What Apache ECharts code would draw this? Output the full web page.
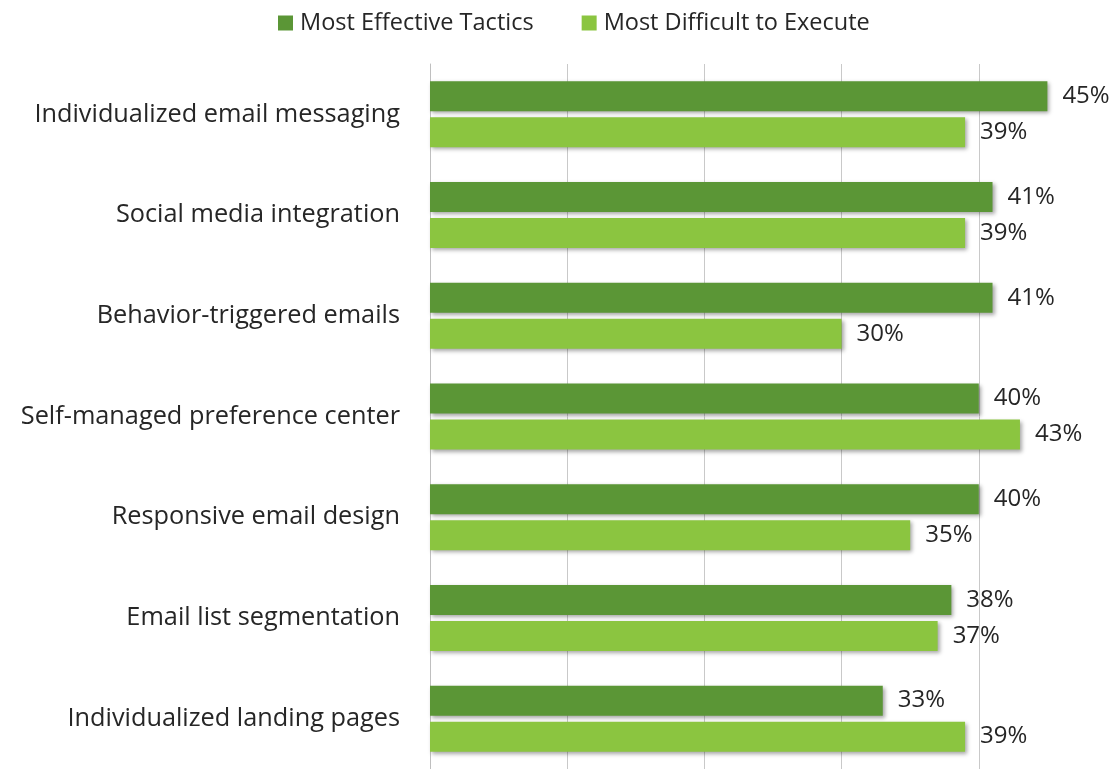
<!DOCTYPE html>
<html>
<head>
<meta charset="utf-8">
<script src="https://cdn.jsdelivr.net/npm/echarts@6/dist/echarts.min.js"></script>
<style>
  html, body { margin: 0; padding: 0; background: #fff; }
  #chart { width: 1116px; height: 769px; }
</style>
</head>
<body>
<div id="chart"></div>
<script>
const categories = [
  'Individualized email messaging',
  'Social media integration',
  'Behavior-triggered emails',
  'Self-managed preference center',
  'Responsive email design',
  'Email list segmentation',
  'Individualized landing pages'
];
const seriesNames = ['Most Effective Tactics', 'Most Difficult to Execute'];
const mostEffective = [45, 41, 41, 40, 40, 38, 33];
const mostDifficult = [39, 39, 30, 43, 35, 37, 39];

const FONT = 'Open Sans';
const TEXT = '#262626';

const barShadow = {
  shadowColor: 'rgba(0,0,0,0.35)',
  shadowBlur: 4,
  shadowOffsetX: 2,
  shadowOffsetY: 2
};

const valueLabel = {
  show: true,
  position: 'right',
  distance: 15,
  formatter: p => p.value + '%',
  fontFamily: FONT,
  fontSize: 24,
  color: TEXT,
  padding: [3, 0, 0, 0]
};

const chart = echarts.init(document.getElementById('chart'));
chart.setOption({
  animation: false,
  legend: {
    top: 6,
    left: 273,
    itemWidth: 15,
    itemHeight: 15,
    itemGap: 48,
    icon: 'rect',
    textStyle: { fontFamily: FONT, fontSize: 23.5, color: TEXT, padding: [0, 0, 0, 2] },
    data: seriesNames
  },
  grid: { left: 430, top: 64, width: 687.5, height: 707 },
  xAxis: {
    type: 'value',
    min: 0,
    max: 50,
    interval: 10,
    axisLabel: { show: false },
    axisLine: { show: false },
    axisTick: { show: false },
    splitLine: { show: true, lineStyle: { color: '#c9c9c9', width: 1 } }
  },
  yAxis: {
    type: 'category',
    inverse: true,
    data: categories,
    axisTick: { show: false },
    axisLine: { show: true, lineStyle: { color: '#bfbfbf', width: 1 } },
    axisLabel: { margin: 30, fontFamily: FONT, fontSize: 25.3, color: TEXT }
  },
  series: [
    {
      name: seriesNames[0],
      type: 'bar',
      data: mostEffective,
      barWidth: 30,
      barGap: '20%',
      itemStyle: Object.assign({ color: '#5b9636' }, barShadow),
      label: valueLabel
    },
    {
      name: seriesNames[1],
      type: 'bar',
      data: mostDifficult,
      barWidth: 30,
      itemStyle: Object.assign({ color: '#8bc540' }, barShadow),
      label: valueLabel
    }
  ]
});
</script>
</body>
</html>
